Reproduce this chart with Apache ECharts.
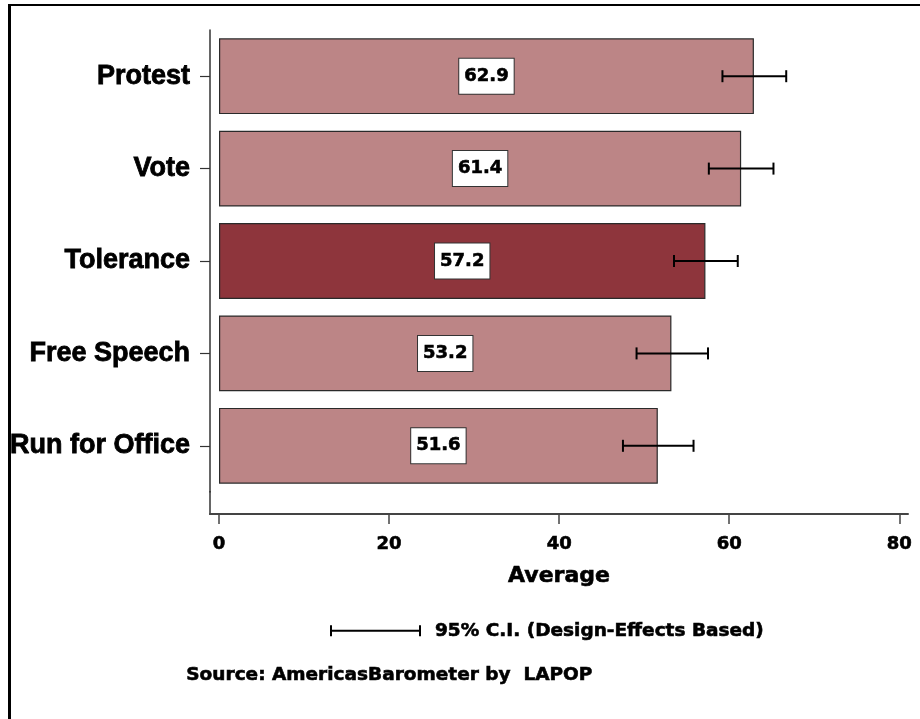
<!DOCTYPE html>
<html lang="en">
<head>
<meta charset="utf-8">
<title>Political participation averages</title>
<script src="https://cdn.jsdelivr.net/npm/echarts@6/dist/echarts.min.js"></script>
<style>
body { margin: 0; background: #fff; }
#main { width: 920px; height: 719px; }
</style>
</head>
<body>
<div id="main"></div>
<script>
// categories, top to bottom
var categories = ['Protest', 'Vote', 'Tolerance', 'Free Speech', 'Run for Office'];
// averages
var averages = [62.9, 61.4, 57.2, 53.2, 51.6];
// 95% CI bounds
var ciLow = [59.2, 57.6, 53.5, 49.1, 47.5];
var ciHigh = [66.7, 65.2, 61.0, 57.5, 55.8];
var xTicks = [0, 20, 40, 60, 80];
var highlight = 'Tolerance';

var WIDE = 'DejaVu Sans';
var wide = function (size) {
	return { fontFamily: WIDE, fontWeight: 'bold', fontSize: size, color: '#000',
		textBorderColor: '#000', textBorderWidth: 0.6 };
};

var barData = averages.map(function (v, i) {
	return {
		value: v,
		itemStyle: { color: categories[i] === highlight ? '#8e353c' : '#bc8586' }
	};
});
var ciData = categories.map(function (c, i) {
	return [ciLow[i], ciHigh[i], i];
});

var myChart = echarts.init(document.getElementById('main'));

var option = {
	animation: false,
	backgroundColor: '#fff',
	grid: { left: 210, right: 12, top: 30, height: 462 },
	legend: {
		left: 330, top: 621,
		padding: 0,
		itemWidth: 91, itemHeight: 11,
		data: [{
			name: '95% C.I. (Design-Effects Based)',
			icon: 'path://M0,0h2v4.5h87v-4.5h2v11h-2v-4.5h-87v4.5h-2z'
		}],
		textStyle: Object.assign(wide(18.5), { padding: [0, 0, 0, 9] })
	},
	xAxis: {
		type: 'value',
		min: -1.06, max: 81.02,
		offset: 22,
		name: 'Average',
		nameLocation: 'middle',
		nameGap: 51,
		nameTextStyle: wide(22),
		axisLine: { show: true, lineStyle: { color: '#444', width: 2 } },
		axisTick: { show: true, length: 10, customValues: xTicks, lineStyle: { color: '#444', width: 1.5 } },
		axisLabel: Object.assign(wide(18), { margin: 21, customValues: xTicks }),
		splitLine: { show: false }
	},
	yAxis: {
		type: 'category',
		inverse: true,
		data: categories,
		axisLine: { show: true, onZero: false, lineStyle: { color: '#333', width: 1.5 } },
		axisTick: { show: true, alignWithLabel: true, length: 10, lineStyle: { color: '#333', width: 1.2 } },
		axisLabel: {
			margin: 20,
			fontFamily: 'Liberation Sans', fontWeight: 'bold', fontSize: 27, color: '#000',
			textBorderColor: '#000', textBorderWidth: 0.8
		}
	},
	graphic: [
		// y axis continues down to the x axis
		{ type: 'line', shape: { x1: 210, y1: 491, x2: 210, y2: 515 }, style: { stroke: '#333', lineWidth: 1.5 } },
		// frame
		{ type: 'line', shape: { x1: 9.5, y1: 4, x2: 9.5, y2: 719 }, style: { stroke: '#000', lineWidth: 3 } },
		{ type: 'line', shape: { x1: 8, y1: 5, x2: 920, y2: 5 }, style: { stroke: '#000', lineWidth: 2 } },
		{ type: 'text', left: 186, top: 665,
			style: { text: 'Source: AmericasBarometer by  LAPOP', font: 'bold 18.5px "DejaVu Sans"',
				fill: '#000', stroke: '#000', lineWidth: 0.6 } }
	],
	series: [{
		type: 'bar',
		barWidth: '82%',
		data: barData,
		itemStyle: { borderColor: '#2a2a2a', borderWidth: 1.2 },
		label: {
			show: true,
			position: 'inside',
			formatter: function (p) { return p.value.toFixed(1); },
			backgroundColor: '#fff',
			borderColor: '#333',
			borderWidth: 1,
			padding: [9, 5, 8, 5],
			fontFamily: WIDE, fontWeight: 'bold', fontSize: 18, color: '#000',
			textBorderColor: '#000', textBorderWidth: 0.6
		},
		z: 2
	}, {
		type: 'custom',
		name: '95% C.I. (Design-Effects Based)',
		data: ciData,
		encode: { x: [0, 1], y: 2 },
		itemStyle: { color: '#000' },
		z: 5,
		renderItem: function (params, api) {
			var lo = api.coord([api.value(0), api.value(2)]);
			var hi = api.coord([api.value(1), api.value(2)]);
			var h = 6;
			var st = { stroke: '#000', lineWidth: 2 };
			return {
				type: 'group',
				children: [
					{ type: 'line', shape: { x1: lo[0], y1: lo[1], x2: hi[0], y2: hi[1] }, style: st },
					{ type: 'line', shape: { x1: lo[0], y1: lo[1] - h, x2: lo[0], y2: lo[1] + h }, style: st },
					{ type: 'line', shape: { x1: hi[0], y1: hi[1] - h, x2: hi[0], y2: hi[1] + h }, style: st }
				]
			};
		}
	}]
};

myChart.setOption(option);
</script>
</body>
</html>
